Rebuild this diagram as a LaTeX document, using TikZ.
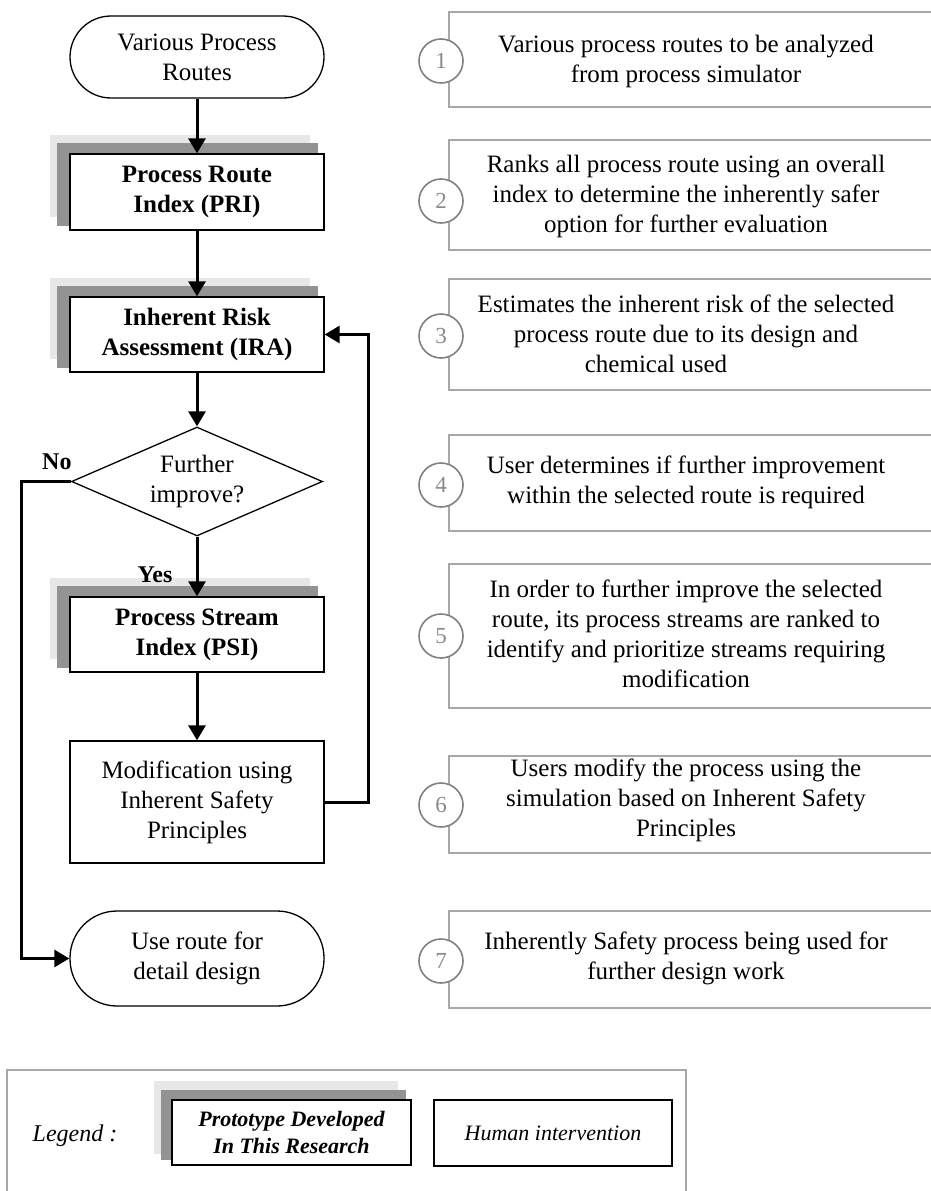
\documentclass[tikz,border=0pt]{standalone}
\usepackage{fontspec}
\setmainfont{Liberation Serif}
\usetikzlibrary{arrows.meta,shapes.geometric,backgrounds,calc}
\definecolor{shdark}{HTML}{939393}
\definecolor{shlight}{HTML}{E6E7E9}
\definecolor{rline}{HTML}{A8A8A8}
\definecolor{cline}{HTML}{808080}
\definecolor{cnum}{HTML}{8A8A8A}
\tikzset{
  fc/.style={draw=black, line width=1.3pt, fill=white, align=center,
    font=\fontsize{25}{30}\selectfont, inner sep=0pt},
  procbox/.style={fc, minimum width=254pt, minimum height=76pt},
  boldtxt/.style={font=\fontsize{25}{30}\selectfont\bfseries},
  termbox/.style={fc, minimum width=254pt},
  decbox/.style={fc, shape=diamond, minimum width=251pt, minimum height=109pt, aspect=2.3},
  flow/.style={line width=3pt, -{Triangle[length=15pt,width=17pt]}},
  lbl/.style={font=\fontsize{24}{28}\selectfont\bfseries, inner sep=0pt},
  rbox/.style={draw=rline, line width=1.4pt},
  numc/.style={circle, draw=cline, line width=1.6pt, fill=white, minimum size=44pt,
    inner sep=0pt, text=cnum, font=\fontsize{23}{23}\selectfont},
  rtxt/.style={align=center, font=\fontsize{25}{30}\selectfont, inner sep=0pt},
  legbox/.style={draw=black, line width=1.8pt, fill=white, align=center, inner sep=0pt,
    font=\fontsize{22}{27}\selectfont\itshape},
}
\newcommand{\shadowfor}[1]{%
  \fill[shlight] ($(#1.north west)+(-19,-18)$) rectangle ($(#1.south east)+(-15,-14)$);
  \fill[shdark] ($(#1.north west)+(-12,-10)$) rectangle ($(#1.south east)+(-7,-5)$);
}
\begin{document}
\begin{tikzpicture}[x=1pt,y=-1pt]
\useasboundingbox (0,0) rectangle (930,1191);

% ---------------- flowchart ----------------
\node[termbox, minimum height=82pt, rounded corners=41pt] (start) at (197,57) {Various Process\\Routes};
\node[procbox, boldtxt] (pri) at (197,192) {Process Route\\Index (PRI)};
\node[procbox, boldtxt, minimum height=75pt] (ira) at (197,334.5) {Inherent Risk\\Assessment (IRA)};
\node[decbox] (dec) at (197,481.5) {Further\\improve?};
\node[procbox, boldtxt, minimum height=75pt] (psi) at (197,634.5) {Process Stream\\Index (PSI)};
\node[procbox, minimum height=122pt] (mod) at (197,802) {Modification using\\Inherent Safety\\Principles};
\node[termbox, minimum height=95pt, rounded corners=47pt] (end) at (197,958.5) {Use route for\\detail design};

\begin{scope}[on background layer]
  \shadowfor{pri}
  \shadowfor{ira}
  \shadowfor{psi}
\end{scope}

\node[lbl, anchor=west] (no) at (42,462) {No};
\node[lbl] (yes) at (155,575) {Yes};

\draw[flow] (start) -- (pri);
\draw[flow] (pri) -- (ira);
\draw[flow] (ira) -- (dec);
\draw[flow] (dec) -- (psi);
\draw[flow] (psi) -- (mod);
\draw[flow] (mod.east) -- ++(44,0) coordinate (loopc) |- (ira.east);
\draw[flow] (dec.west) -- ++(-49,0) coordinate (noc) |- (end.west);

% ---------------- right description boxes ----------------
\foreach \i/\t/\b/\c in {1/12/107/61, 2/140/250/201, 3/279/390/336, 4/435/531/485,
                          5/564/708/636, 6/756/853/805, 7/911/1008/961}{
  \draw[rbox] (931,\t) -- (449,\t) -- (449,\b) -- (931,\b);
  \node[numc] (n\i) at (441,\c) {\i};
}
\node[rtxt] (d1) at (686,61) {Various process routes to be analyzed\\from process simulator};
\node[rtxt] (d2) at (686,196) {Ranks all process route using an overall\\index to determine the inherently safer\\option for further evaluation};
\node[rtxt] (d3) at (686,334) {Estimates the inherent risk of the selected\\process route due to its design and\\chemical used\hspace*{60pt}};
\node[rtxt] (d4) at (686,482) {User determines if further improvement\\within the selected route is required};
\node[rtxt] (d5) at (686,634) {In order to further improve the selected\\route, its process streams are ranked to\\identify and prioritize streams requiring\\modification};
\node[rtxt] (d6) at (686,800) {Users modify the process using the\\simulation based on Inherent Safety\\Principles};
\node[rtxt] (d7) at (686,958) {Inherently Safety process being used for\\further design work};

% ---------------- legend ----------------
\draw[rbox] (7,1195) -- (7,1070) -- (686,1070) -- (686,1195);
\node[font=\fontsize{24}{28}\selectfont\itshape, inner sep=0pt] (legt) at (75,1136) {Legend :};
\node[legbox, minimum width=239pt, minimum height=65pt, font=\fontsize{22}{27}\selectfont\bfseries\itshape] (proto) at (291.5,1132.5) {Prototype Developed\\In This Research};
\begin{scope}[on background layer]
  \fill[shlight] ($(proto.north west)+(-17,-18)$) rectangle ($(proto.south east)+(-14,-12)$);
  \fill[shdark] ($(proto.north west)+(-10,-9)$) rectangle ($(proto.south east)+(-6,-6)$);
\end{scope}
\node[legbox, minimum width=238pt, minimum height=66pt] (human) at (553,1133) {Human intervention};
\end{tikzpicture}
\end{document}
